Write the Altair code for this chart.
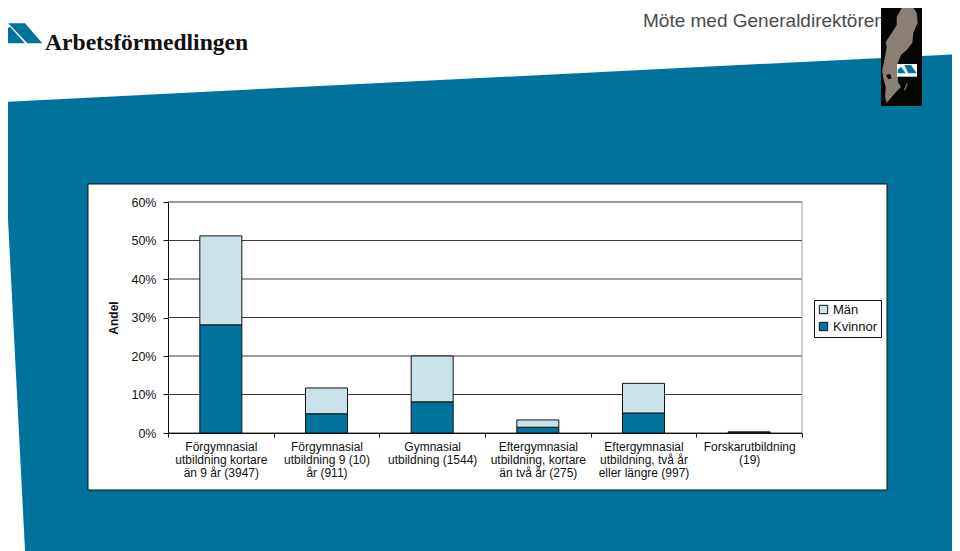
import altair as alt
import pandas as pd

# ---- chart data ----
categories = [
    "Förgymnasial\nutbildning kortare\nän 9 år (3947)",
    "Förgymnasial\nutbildning 9 (10)\når (911)",
    "Gymnasial\nutbildning (1544)",
    "Eftergymnasial\nutbildning, kortare\nän två år (275)",
    "Eftergymnasial\nutbildning, två år\neller längre (997)",
    "Forskarutbildning\n(19)",
]
kvinnor = [0.281, 0.050, 0.081, 0.015, 0.052, 0.0015]
man = [0.231, 0.067, 0.119, 0.019, 0.077, 0.0015]
ticks = [0, 0.1, 0.2, 0.3, 0.4, 0.5, 0.6]

# ---- slide decoration outlines (page pixels) ----
slide_band = [(2, 102), (960, 54), (960, 560), (25.5, 560)]
panel = [(88, 184), (887, 184), (887, 490), (88, 490)]
map_box = [(881, 0), (922, 0), (922, 106), (881, 106)]
sweden = [(907, 1), (911, 4), (916.7, 13), (917.7, 23), (915.7, 27), (913.3, 33), (912.3, 43),
          (906.7, 50), (901, 55), (897.7, 63), (897.7, 75), (898, 82), (901, 87), (895, 93),
          (890, 99), (886.7, 102.7), (885, 97), (885.7, 87), (883, 77), (882.3, 70), (885, 57),
          (886.7, 47), (885.7, 42), (891.7, 33), (896.7, 25), (896.7, 17), (901.7, 8), (906.7, 5)]
gotland = [(906.7, 83.3), (907.7, 84), (905, 90.7), (904.3, 89.3)]
lake = [(886, 75), (890, 74), (891.7, 78.3), (888.3, 79.3)]
map_white = [(897, 64), (917, 64), (917, 76.7), (897, 76.7)]
small_a = [(904.3, 65), (911, 65), (916.7, 73.3), (908.3, 73.3)]
small_b = [(897.7, 70), (901, 66.7), (905.7, 73.3), (897.7, 73.3)]
logo_a = [(8.3, 23.3), (25, 23.3), (42.3, 43.3), (27.3, 43.3)]
logo_b = [(1, 36.7), (5, 30), (10, 26.7), (25, 43.3), (5, 43.3), (1, 40)]

BLUE = "#00739C"
LIGHT = "#CCE2EA"
OX, OY = 168, 202
W, H = 634, 231

x_page = alt.X("x:Q", axis=None, scale=alt.Scale(domain=[0, 960], range=[-OX, 960 - OX]))
y_page = alt.Y("y:Q", axis=None, scale=alt.Scale(domain=[0, 551], range=[-OY, 551 - OY]))


def poly(points, fill, stroke=None):
    rows = [{"x": p[0], "y": p[1], "i": i} for i, p in enumerate(points + points[:1])]
    kw = {"stroke": stroke, "strokeWidth": 1} if stroke else {"strokeWidth": 0}
    return alt.Chart(alt.Data(values=rows)).mark_line(fill=fill, **kw).encode(
        x=x_page, y=y_page, order="i:Q"
    )


def label(text, px, py, **kw):
    return alt.Chart(alt.Data(values=[{"a": 1}])).mark_text(text=text, align="left", **kw).encode(
        x=alt.value(px - OX), y=alt.value(py - OY)
    )


rows = []
for c, k, m in zip(categories, kvinnor, man):
    rows.append({"cat": c, "kon": "Kvinnor", "andel": k, "o": 0})
    rows.append({"cat": c, "kon": "Män", "andel": m, "o": 1})
df = pd.DataFrame(rows)

grid = alt.Chart(pd.DataFrame({"t": ticks})).mark_rule(color="#3a3a3a", strokeWidth=1).encode(
    y=alt.Y("t:Q", axis=None, scale=alt.Scale(domain=[0, 0.6])),
    x=alt.value(0),
    x2=alt.value(W),
)
top_line = alt.Chart(alt.Data(values=[{"a": 1}])).mark_rule(color="#9a9a9a", strokeWidth=1).encode(
    x=alt.value(0), x2=alt.value(W), y=alt.value(0)
)
right_line = alt.Chart(alt.Data(values=[{"a": 1}])).mark_rule(color="#9a9a9a", strokeWidth=1).encode(
    x=alt.value(W), y=alt.value(0), y2=alt.value(H)
)

bars = alt.Chart(df).mark_bar(size=42, stroke="#111111", strokeWidth=1).encode(
    x=alt.X(
        "cat:N",
        sort=categories,
        title=None,
        scale=alt.Scale(domain=categories, type="band", paddingInner=0, paddingOuter=0),
        axis=alt.Axis(
            labelExpr="isValid(datum.value) ? split(datum.value, '\\n') : ''",
            labelAngle=0,
            labelFont="Liberation Sans",
            labelFontSize=12,
            labelColor="#111111",
            labelLineHeight=13,
            labelPadding=4,
            labelLimit=0,
            tickBand="extent",
            tickColor="#111111",
            tickSize=4,
            domainColor="#111111",
            zindex=1,
            grid=False,
        ),
    ),
    y=alt.Y(
        "andel:Q",
        stack="zero",
        title="Andel",
        scale=alt.Scale(domain=[0, 0.6]),
        axis=alt.Axis(
            values=ticks,
            format=".0%",
            labelFont="Liberation Sans",
            labelFontSize=12.5,
            labelColor="#111111",
            labelPadding=7,
            tickColor="#111111",
            tickSize=5,
            domainColor="#111111",
            titleFont="Liberation Sans",
            titleFontSize=12,
            titleFontWeight="bold",
            titleColor="#111111",
            titlePadding=10,
            zindex=1,
            grid=False,
        ),
    ),
    color=alt.Color(
        "kon:N",
        scale=alt.Scale(domain=["Män", "Kvinnor"], range=[LIGHT, BLUE]),
        legend=alt.Legend(
            title=None,
            orient="none",
            legendX=814 - OX,
            legendY=300 - OY,
            fillColor="white",
            strokeColor="#111111",
            padding=3,
            symbolType="square",
            symbolSize=70,
            symbolStrokeColor="#111111",
            symbolStrokeWidth=1,
            labelFont="Liberation Sans",
            labelFontSize=13,
            labelColor="#111111",
            rowPadding=3,
            labelOffset=3,
        ),
    ),
    order=alt.Order("o:Q"),
)

chart = alt.layer(
    poly(slide_band, BLUE),
    poly(panel, "white", "#111111"),
    label("Möte med Generaldirektören", 643, 21, font="Liberation Sans", fontSize=19, color="#4a4a4a"),
    poly(map_box, "#050505"),
    poly(sweden, "#8C8076"),
    poly(gotland, "#8C8076"),
    poly(lake, "#050505"),
    poly(map_white, "white"),
    poly(small_a, BLUE),
    poly(small_b, BLUE),
    poly(logo_a, BLUE),
    poly(logo_b, BLUE),
    label("Arbetsförmedlingen", 45, 43, font="Liberation Serif", fontSize=23.6, fontWeight="bold", color="#111111"),
    grid,
    top_line,
    right_line,
    bars,
).resolve_scale(x="independent", y="independent").properties(
    width=W,
    height=H,
    padding={"left": OX - 8, "top": OY - 8, "right": 952 - OX - W, "bottom": 551 - OY - H},
    autosize=alt.AutoSizeParams(type="none"),
    background="white",
).configure_view(stroke=None)

chart.save("out.html", embed_options={"renderer": "svg", "actions": False})
